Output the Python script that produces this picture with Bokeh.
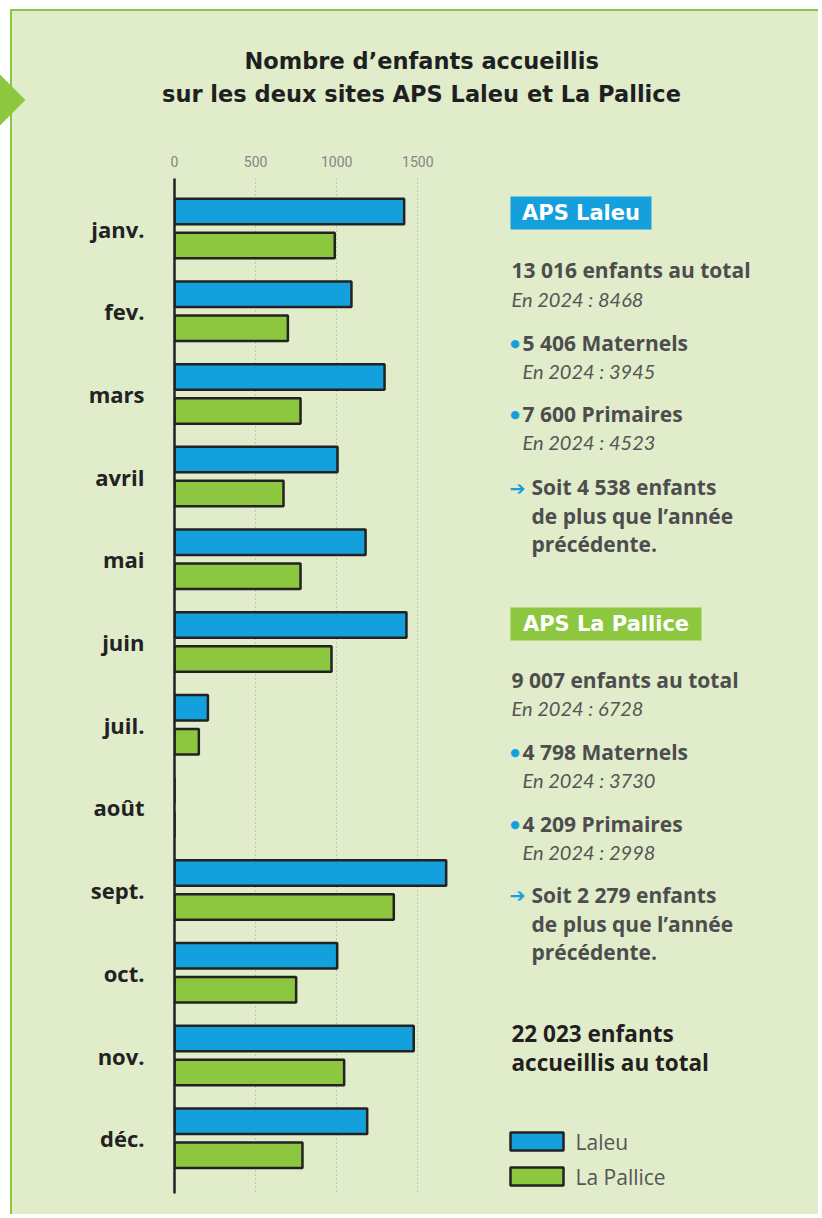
from bokeh.plotting import figure
from bokeh.models import (Range1d, FixedTicker, ColumnDataSource, Title, InlineStyleSheet)
from bokeh.transform import dodge
from bokeh.core.properties import value
from bokeh.embed import file_html
from bokeh.resources import INLINE

# ---------------- data ----------------
months = ["janv.", "fev.", "mars", "avril", "mai", "juin", "juil.", "août",
          "sept.", "oct.", "nov.", "déc."]
laleu = [1416, 1091, 1295, 1005, 1178, 1430, 206, 0, 1675, 1003, 1475, 1188]
pallice = [988, 699, 777, 672, 777, 968, 150, 0, 1352, 750, 1046, 789]
x_ticks = [0, 500, 1000, 1500]
series_names = ["Laleu", "La Pallice"]
title_lines = ["Nombre d’enfants accueillis", "sur les deux sites APS Laleu et La Pallice"]

# ---------------- layout constants (page pixels) ----------------
BG = "#E0ECCA"
BLUE = "#14A0DC"
GREEN = "#8DC63F"
DARK = "#222222"
SERIES_COLORS = [BLUE, GREEN]

OX, OY = 12, 11                       # canvas origin on the page
W, H = 808, 1205
FL, FT, FB = 174, 178, 1193           # frame left/top/bottom (page px)
FR = OX + W
KX = 81.1 / 500                       # px per unit
KY = 82.7                             # px per month
Y_TOP = -(228 - FT) / KY
Y_BOT = Y_TOP + (FB - FT) / KY
X_END = (FR - FL) / KX


def X(px):
    return (px - FL) / KX


def Y(py):
    return Y_TOP + (py - FT) / KY


p = figure(width=W, height=H, x_range=Range1d(0, X_END), y_range=Range1d(Y_BOT, Y_TOP),
           output_backend="svg", toolbar_location=None, x_axis_location="above",
           title=None,
           min_border_left=FL - OX, min_border_right=0, min_border_top=FT - OY,
           min_border_bottom=(OY + H) - FB)
p.margin = (9, 0, 0, 10)
p.styles = {"border-top": f"2px solid {GREEN}", "border-left": f"2px solid {GREEN}",
            "background-color": BG}
p.stylesheets = [InlineStyleSheet(css=(
    ":host::before { content: ''; position: fixed; left: -18px; top: 82px; "
    "width: 36px; height: 36px; background: #8DC63F; transform: rotate(45deg); "
    "z-index: 10; }"))]
p.background_fill_color = None
p.border_fill_color = None
p.outline_line_color = None

# title: two centred lines (added nearest-first)
for txt, off in [(title_lines[1], 161.5 - FL), (title_lines[0], 244 - FL)]:
    p.add_layout(Title(text=txt, align="left", offset=off, standoff=5,
                       text_font="DejaVu Sans", text_font_style="bold",
                       text_font_size="22.5px", text_color="#1F1F1F"), "above")

# x axis (top)
xa = p.xaxis[0]
xa.ticker = FixedTicker(ticks=x_ticks)
xa.axis_line_color = None
xa.major_tick_line_color = None
xa.minor_tick_line_color = None
xa.major_tick_out = 0
xa.major_label_text_font = "Roboto"
xa.major_label_text_font_size = "14px"
xa.major_label_text_color = "#858585"
xa.major_label_standoff = 12
xa.axis_label = "\u00a0"                # spacer between ticks and title
xa.axis_label_text_font_size = "14px"
xa.axis_label_standoff = 24

# y axis (left)
ya = p.yaxis[0]
ya.ticker = FixedTicker(ticks=list(range(len(months))))
ya.major_label_overrides = {i: m for i, m in enumerate(months)}
ya.axis_line_color = DARK
ya.axis_line_width = 2.5
ya.major_tick_line_color = None
ya.minor_tick_line_color = None
ya.major_tick_out = 0
ya.major_label_text_font = "Open Sans"
ya.major_label_text_font_style = "bold"
ya.major_label_text_font_size = "22px"
ya.major_label_text_color = DARK
ya.major_label_standoff = 30

p.ygrid.visible = False
p.xgrid.ticker = FixedTicker(ticks=x_ticks)
p.xgrid.grid_line_color = "#a0a0a0"
p.xgrid.grid_line_dash = "1 3"
p.xgrid.grid_line_width = 1

src = ColumnDataSource(dict(y=list(range(len(months))), month=months,
                            laleu=laleu, pallice=pallice))
OFF = 17 / KY
BH = 25.5 / KY
p.hbar(y=dodge("y", -OFF), left=0, right="laleu", height=BH, source=src,
       fill_color=BLUE, line_color=DARK, line_width=2.5)
p.hbar(y=dodge("y", OFF), left=0, right="pallice", height=BH, source=src,
       fill_color=GREEN, line_color=DARK, line_width=2.5)


# ---------------- right-hand info panel ----------------
def put(items, size, style, color, font="Open Sans", align="left"):
    p.text(x=[X(a) for a, b, t in items], y=[Y(b) for a, b, t in items],
           text=[t for a, b, t in items], text_font=value(font),
           text_font_style=style, text_font_size=f"{size}px", text_color=color,
           text_align=align, text_baseline="alphabetic")


p.quad(left=[X(510), X(510)], right=[X(651), X(701)], top=[Y(196), Y(607)],
       bottom=[Y(229), Y(640)], fill_color=SERIES_COLORS, line_color=None)
put([(580.5, 212, "APS Laleu"), (605.5, 623, "APS La Pallice")], 21, "bold", "white",
    font="DejaVu Sans", align="center")

bold_items = [
    (511, 269, "13 016 enfants au total"),
    (522, 342, "5 406 Maternels"),
    (522, 413, "7 600 Primaires"),
    (531, 486, "Soit 4 538 enfants"),
    (531, 515, "de plus que l’année"),
    (531, 543, "précédente."),
    (511, 679, "9 007 enfants au total"),
    (522, 751, "4 798 Maternels"),
    (522, 823, "4 209 Primaires"),
    (531, 894, "Soit 2 279 enfants"),
    (531, 923, "de plus que l’année"),
    (531, 951, "précédente."),
]
put(bold_items, 21, "bold", "#4D4D4D")
put([(511, 1033, "22 023 enfants"), (511, 1062, "accueillis au total")], 22.5, "bold",
    "#231F20")
italic_items = [
    (511, 298, "En 2024 : 8468"),
    (522, 370, "En 2024 : 3945"),
    (522, 441, "En 2024 : 4523"),
    (511, 707, "En 2024 : 6728"),
    (522, 779, "En 2024 : 3730"),
    (522, 851, "En 2024 : 2998"),
]
put(italic_items, 20, "italic", "#555555", font="Lato")
put([(509, 342, "•"), (509, 413, "•"), (509, 751, "•"), (509, 823, "•")], 19, "bold", BLUE,
    font="Lato")
put([(509, 487, "➔"), (509, 894, "➔")], 19, "normal", BLUE, font="DejaVu Sans")

# legend (swatches + labels)
p.quad(left=[X(510), X(510)], right=[X(563), X(563)], top=[Y(1132), Y(1167)],
       bottom=[Y(1150), Y(1185)], fill_color=SERIES_COLORS, line_color=DARK, line_width=2.5)
put([(575, 1141, series_names[0]), (575, 1176, series_names[1])], 21, "normal", "#555555")

open("out.html", "w").write(file_html(p, INLINE))
